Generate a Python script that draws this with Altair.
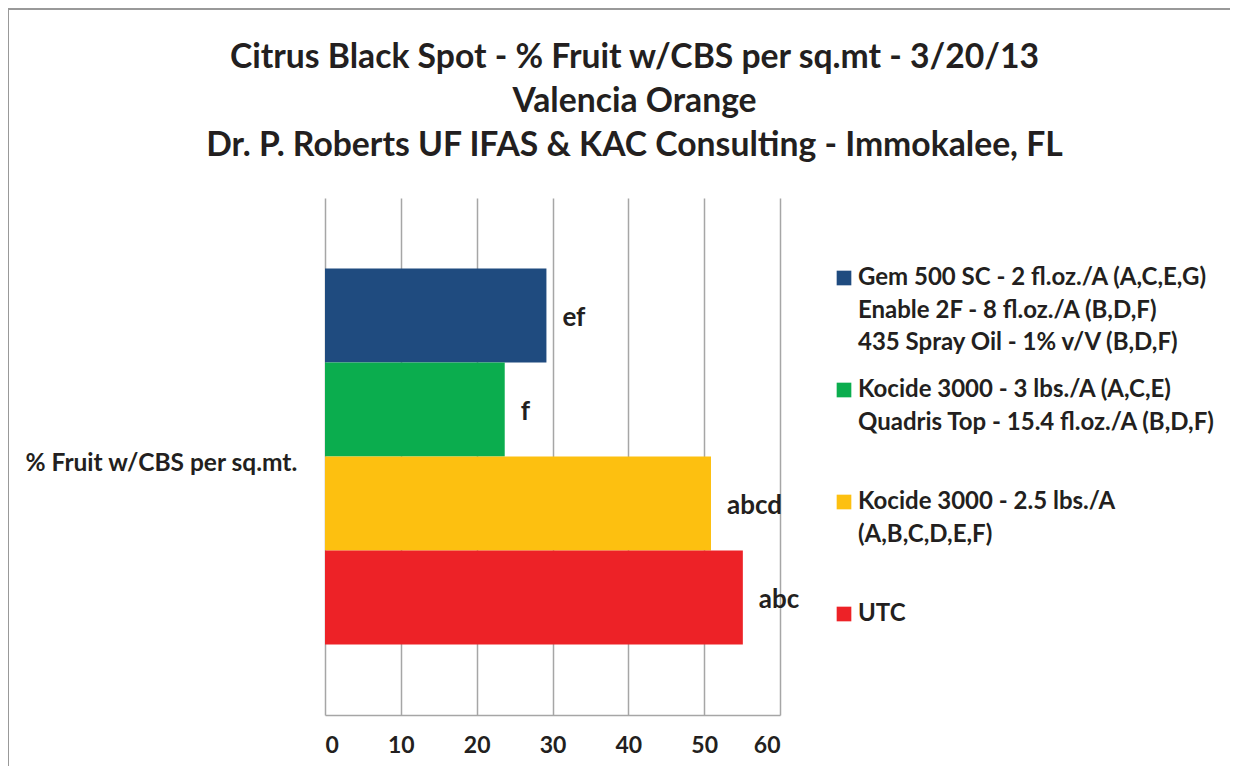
import altair as alt
import pandas as pd

treatments = [
    "Gem 500 SC - 2 fl.oz./A (A,C,E,G)|Enable 2F - 8 fl.oz./A (B,D,F)|435 Spray Oil - 1% v/V (B,D,F)",
    "Kocide 3000 - 3 lbs./A (A,C,E)|Quadris Top - 15.4 fl.oz./A (B,D,F)| ",
    "Kocide 3000 - 2.5 lbs./A|(A,B,C,D,E,F)| ",
    "UTC| | ",
]
values = [29.2, 23.7, 50.9, 55.1]
letters = ["ef", "f", "abcd", "abc"]
colors = ["#1F4B7F", "#0BAD4E", "#FDC010", "#ED2227"]
category = "% Fruit w/CBS per sq.mt."

df = pd.DataFrame({"Treatment": treatments, "Value": values, "Letter": letters})

FONT = "Lato"
TXT = "#231F20"

x_enc = alt.X(
    "Value:Q",
    scale=alt.Scale(domain=[0, 60], nice=False),
    axis=alt.Axis(
        values=[0, 10, 20, 30, 40, 50, 60],
        title=None,
        ticks=False,
        grid=True,
        gridColor="#A6A6A6",
        gridWidth=1.5,
        domainColor="#A6A6A6",
        domainWidth=1.5,
        labelFont=FONT,
        labelFontSize=23,
        labelFontWeight="bold",
        labelColor=TXT,
        labelPadding=19,
    ),
)
y_enc = alt.Y(
    "Treatment:N",
    sort=treatments,
    scale=alt.Scale(paddingInner=0, paddingOuter=0.75),
    axis=alt.Axis(
        labels=False,
        ticks=False,
        domain=False,
        title=category,
        titleAngle=0,
        titleX=-300,
        titleY=265,
        titleAlign="left",
        titleBaseline="middle",
        titleFont=FONT,
        titleFontSize=24.5,
        titleFontWeight="bold",
        titleColor=TXT,
    ),
)

bars = alt.Chart(df).mark_bar(size=94).encode(
    x=x_enc,
    y=y_enc,
    color=alt.Color(
        "Treatment:N",
        sort=treatments,
        scale=alt.Scale(domain=treatments, range=colors),
        legend=alt.Legend(
            title=None,
            orient="none",
            legendX=507,
            legendY=68,
            symbolType="square",
            symbolSize=215,
            symbolStrokeWidth=0,
            labelExpr="split(datum.label, '|')",
            labelFont=FONT,
            labelFontSize=24,
            labelFontWeight="bold",
            labelColor=TXT,
            labelLimit=0,
            labelOffset=2,
            rowPadding=23,
        ),
    ),
)

labels = alt.Chart(df).mark_text(
    align="left", baseline="middle", dx=16, dy=2,
    font=FONT, fontSize=26, fontWeight="bold", color=TXT,
).encode(
    x="Value:Q",
    y=alt.Y("Treatment:N", sort=treatments),
    text="Letter:N",
)

frame_left = alt.Chart(df).mark_rule(color="#999999", strokeWidth=2).encode(
    x=alt.value(-317), y=alt.value(-189), y2=alt.value(580)
)
frame_top = alt.Chart(df).mark_rule(color="#999999", strokeWidth=2).encode(
    x=alt.value(-317), x2=alt.value(930), y=alt.value(-189)
)

chart = alt.layer(bars, labels, frame_left, frame_top).properties(
    width=455,
    height=517,
    autosize=alt.AutoSizeParams(type="none"),
    padding={"left": 317, "top": 190, "right": 450, "bottom": 51},
    title=alt.TitleParams(
        text=[
            "Citrus Black Spot - % Fruit w/CBS per sq.mt - 3/20/13",
            "Valencia Orange",
            "Dr. P. Roberts UF IFAS & KAC Consulting - Immokalee, FL",
        ],
        font=FONT,
        fontSize=33.7,
        fontWeight="bold",
        color=TXT,
        lineHeight=44,
        anchor="middle",
        dx=82,
        dy=191,
        offset=36,
    ),
).configure(
    style={"guide-label": {"lineHeight": 32.5}}
).configure_view(stroke=None)

chart.save("out.html", embed_options={"renderer": "svg", "actions": False})
